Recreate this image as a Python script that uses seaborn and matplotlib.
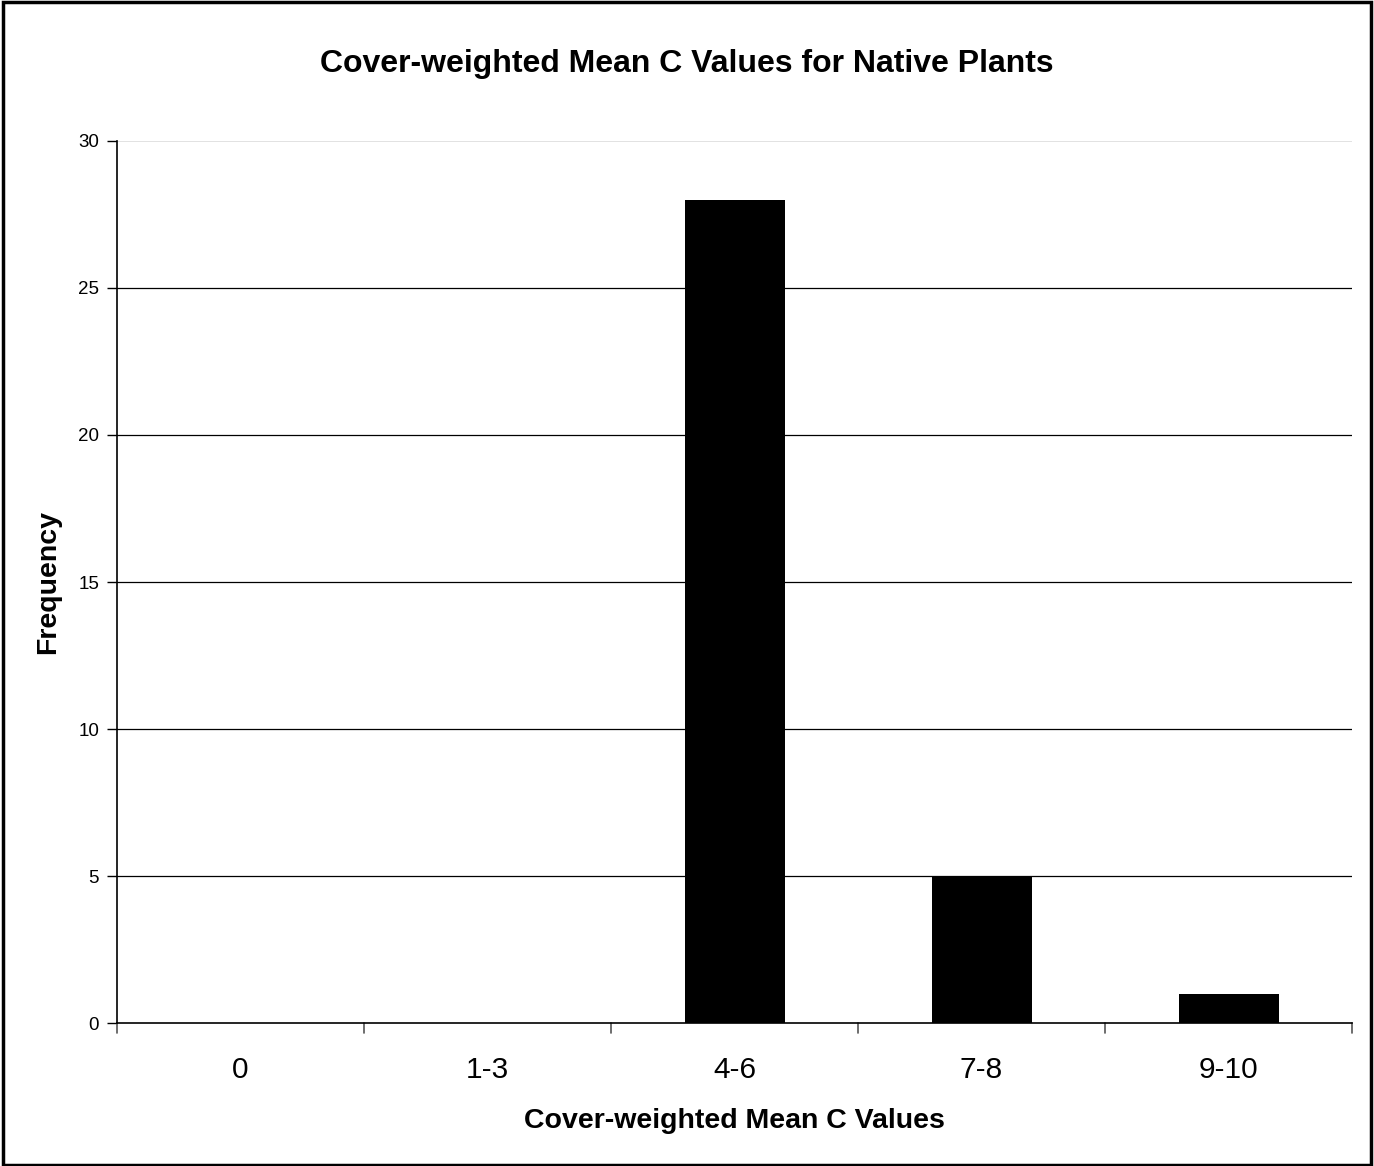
import seaborn as sns
import matplotlib.pyplot as plt
import pandas as pd

# bins and counts
categories = ["0", "1-3", "4-6", "7-8", "9-10"]
frequency = [0, 0, 28, 5, 1]
y_ticks = [0, 5, 10, 15, 20, 25, 30]

df = pd.DataFrame({"bin": categories, "freq": frequency})

sns.set_style("white")
plt.rcParams['font.family'] = ['Liberation Sans', 'DejaVu Sans']
plt.rcParams['text.color'] = 'black'
plt.rcParams['axes.labelcolor'] = 'black'
plt.rcParams['xtick.color'] = 'black'
plt.rcParams['ytick.color'] = 'black'

fig = plt.figure(figsize=(13.74, 11.66), dpi=100)
ax = fig.add_axes([0.0852, 0.1226, 0.8988, 0.7565])

sns.barplot(data=df, x="bin", y="freq", color="black", width=0.405,
            saturation=1, linewidth=0, ax=ax, zorder=3)

ax.set_xlim(-0.5, len(categories) - 0.5)
ax.set_ylim(0, 30)
ax.set_yticks(y_ticks)
ax.set_yticklabels([str(t) for t in y_ticks], fontsize=13.5)

# Excel style grid: horizontal lines only, top one light gray
for t in y_ticks[1:-1]:
    ax.axhline(t, color="black", lw=0.9, zorder=1)
ax.axhline(30, color="#dddddd", lw=1.2, zorder=1)

# category boundary ticks on the x axis
ax.set_xticks(range(len(categories)))
ax.set_xticklabels(categories, fontsize=21.5)
ax.tick_params(axis="x", length=0, pad=24)
for b in range(len(categories) + 1):
    ax.plot([b - 0.5, b - 0.5], [0, -0.011], transform=ax.get_xaxis_transform(),
            color="#555555", lw=1.2, clip_on=False)
ax.tick_params(axis="y", length=7, width=1, left=True, pad=6)

for s in ["top", "right"]:
    ax.spines[s].set_visible(False)
ax.spines["left"].set_color("black")
ax.spines["bottom"].set_color("black")
ax.spines["left"].set_linewidth(1.2)
ax.spines["bottom"].set_linewidth(1.2)

ax.set_xlabel("Cover-weighted Mean C Values", fontsize=20.5, fontweight="bold", labelpad=17)
ax.set_ylabel("Frequency", fontsize=20.5, fontweight="bold", labelpad=12)
fig.suptitle("Cover-weighted Mean C Values for Native Plants", fontsize=23,
             fontweight="bold", y=0.958)

# chart border
fig.patches.append(plt.Rectangle((0.002, 0.001), 0.996, 0.997, transform=fig.transFigure,
                                 fill=False, edgecolor="black", lw=2.5))

fig.savefig("out.png", dpi=100)
